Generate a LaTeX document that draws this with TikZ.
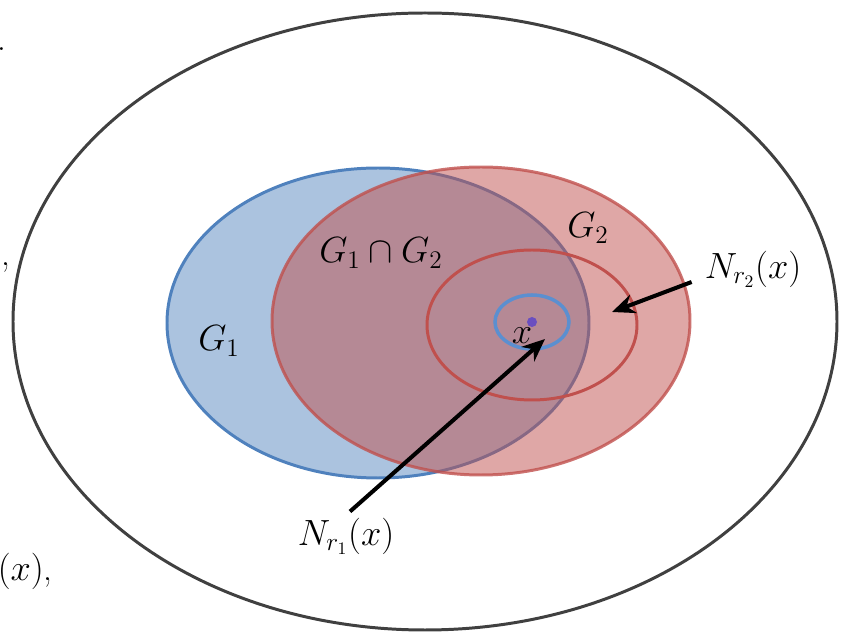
\documentclass[tikz,border=0pt]{standalone}
\usepackage{amsmath}
\usepackage{amssymb}
\usepackage{tikz}
\usetikzlibrary{
	arrows.meta,
	positioning,
	calc
}
\usepackage{xcolor}
\definecolor{setblue}{HTML}{4F81BD}
\definecolor{setred}{HTML}{C0504D}
\definecolor{nbhdblue}{HTML}{5B8FD0}
\definecolor{ptpurple}{HTML}{6A4FC0}
\definecolor{spacegray}{HTML}{404040}

\begin{document}
\begin{tikzpicture}[
		font=\fontsize{20}{24}\selectfont,
		pointer/.style={-{Stealth[length=13pt,width=11pt]}, line width=2.3pt}
	]
		
		\useasboundingbox (0,0) rectangle (16.82,12.64);
		
		% Whole space
		\draw[spacegray, line width=1.7pt] (8.5,6.21) ellipse (8.24 and 6.17);
		
		% G1 and G2
		\draw[setblue, line width=1.7pt, fill=setblue!48] (7.56,6.18) ellipse (4.22 and 3.10);
		\draw[setred, line width=1.7pt, draw opacity=0.8, fill=setred, fill opacity=0.5]
		(9.62,6.22) ellipse (4.18 and 3.08);
		
		% Neighbourhoods of x
		\draw[setred, line width=1.7pt] (10.64,6.14) ellipse (2.10 and 1.50);
		\draw[nbhdblue, line width=2pt] (10.64,6.2) ellipse (0.74 and 0.54);
		\fill[ptpurple] (10.64,6.2) circle (0.1);
		
		\node (g1) at (4.38,5.82) {$G_1$};
		\node (g12) at (7.62,7.58) {$G_1 \cap G_2$};
		\node (g2) at (11.76,8.08) {$G_2$};
		\node (x) at (10.44,5.92) {$x$};
		\node (nr2) at (15.06,7.26) {$N_{r_2}(x)$};
		\node (nr1) at (6.92,1.92) {$N_{r_1}(x)$};
		
		\coordinate (ring) at (12.24,6.4);
		\coordinate (xpt) at (10.9,5.86);
		
		\draw[pointer] (nr2.west) ++(-0.14,-0.26) -- (ring);
		\draw[pointer] (nr1.north) ++(0.08,0) -- (xpt);
		
		% Cut-off text at the left edge
		\node[anchor=east, inner sep=0pt] (frag1) at (1.06,1.22) {$(x)$,};
		\node[anchor=west, inner sep=0pt] (frag2) at (0.02,7.3) {,};
		\node[anchor=base west, inner sep=0pt] (frag3) at (-0.06,11.62) {.};
		
	\end{tikzpicture}
\end{document}
